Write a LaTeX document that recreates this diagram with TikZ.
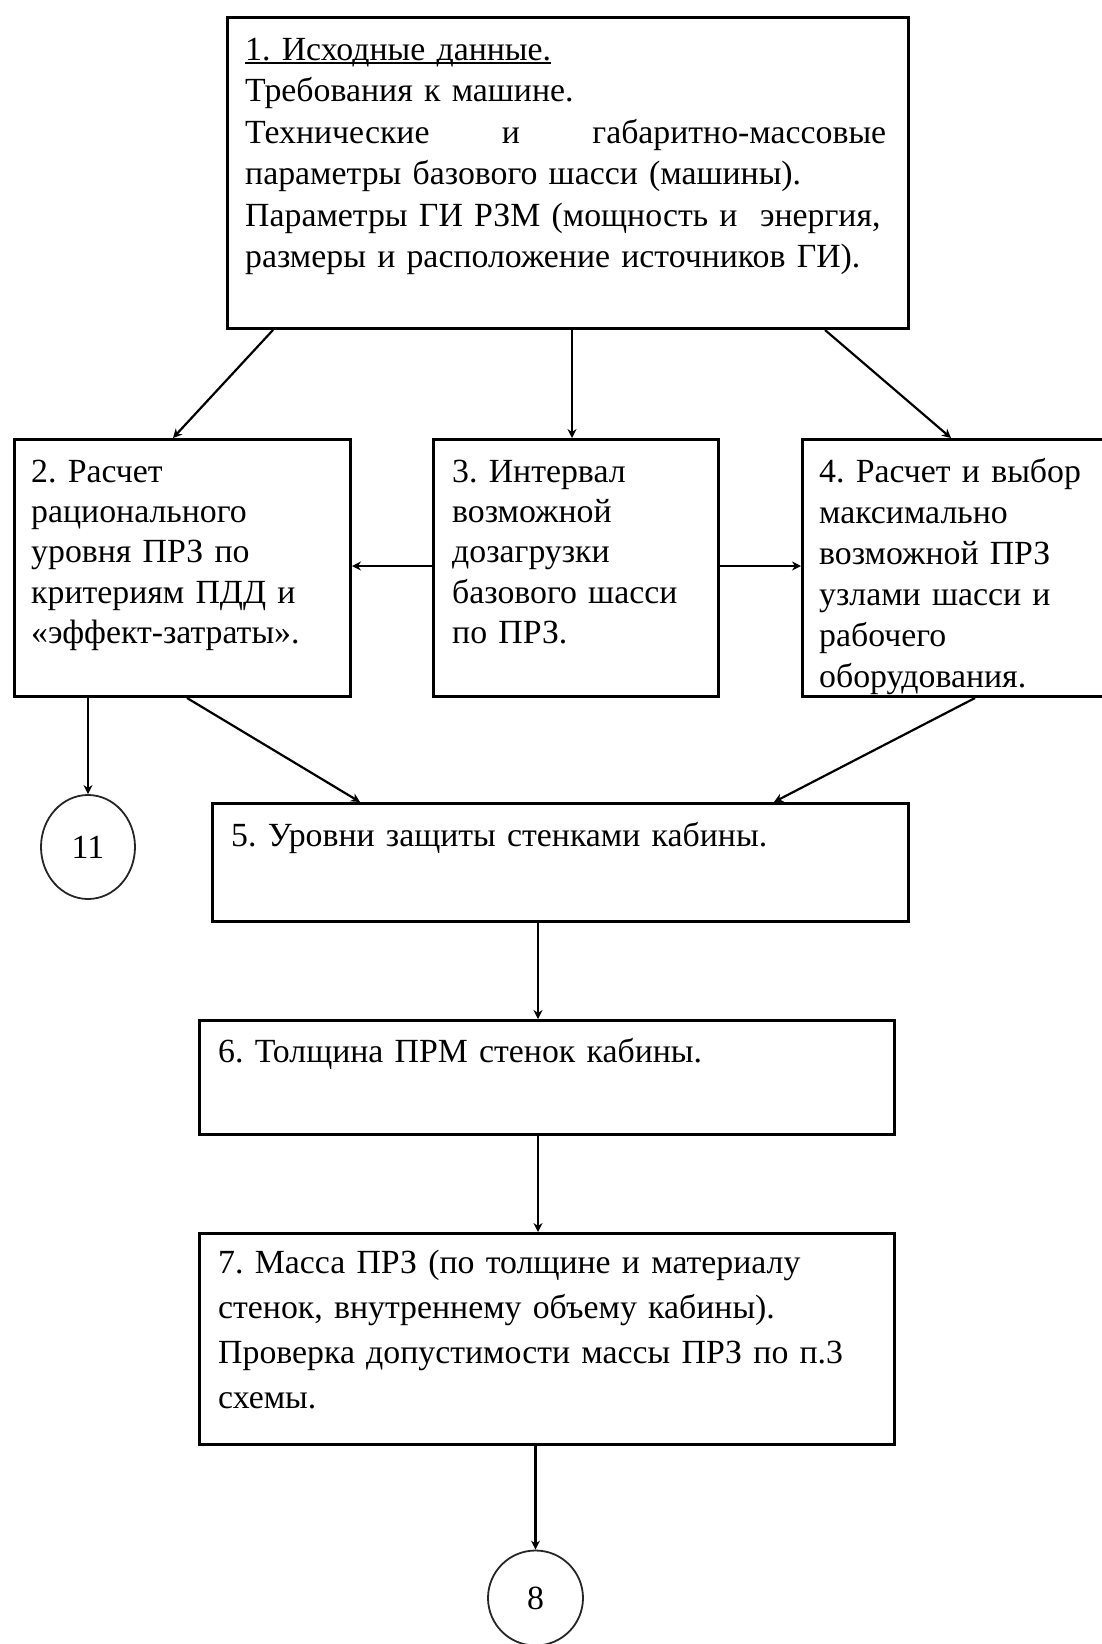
\documentclass[tikz,border=0pt]{standalone}
\usepackage{fontspec}
\setmainfont{Liberation Serif}
\usetikzlibrary{arrows.meta,calc,shapes.geometric}

% underline drawn close to the baseline
\newlength\ulwd
\newcommand\lowul[1]{\settowidth\ulwd{#1}\rlap{\rule[-4pt]{\ulwd}{2pt}}#1}

\begin{document}
\frenchspacing
\begin{tikzpicture}[x=1pt,y=-1pt,
  stage/.style={draw, line width=3pt, inner sep=0pt, anchor=north west},
  label/.style={anchor=north west, inner sep=0pt, align=left, text width=#1},
  label/.default=300pt,
  sz/.style={font=\fontsize{33.8}{#1}\selectfont},
  refmark/.style={draw=black!85, line width=1.8pt, inner sep=0pt, font=\fontsize{33.8}{40}\selectfont},
  arr/.style={-{Stealth[length=9pt,width=9pt]}, line width=2.8pt},
  slant/.style={arr, line width=2.2pt}]

\useasboundingbox (0,0) rectangle (1102,1644);

% frames of the stages
\node[stage, minimum width=681pt, minimum height=311pt] (b1) at (226,16) {};
\node[stage, minimum width=336pt, minimum height=257pt] (b2) at (13,438) {};
\node[stage, minimum width=285pt, minimum height=257pt] (b3) at (432,438) {};
\node[stage, minimum width=305pt, minimum height=257pt] (b4) at (801,438) {};
\node[stage, minimum width=696pt, minimum height=118pt] (b5) at (211,802) {};
\node[stage, minimum width=695pt, minimum height=114pt] (b6) at (198,1019) {};
\node[stage, minimum width=695pt, minimum height=211pt] (b7) at (198,1232) {};

% off-page references
\node[refmark, ellipse, minimum width=94pt, minimum height=104pt] (c11) at (88,847) {11};
\node[refmark, circle, minimum size=95pt] (c8) at (535.5,1598) {8};

% texts of the stages
\node[label=660pt, sz=41.4] (t1) at (245,31.3) {\strut\lowul{1. Исходные данные.}\\
Требования к машине.\\
\makebox[641pt][s]{Технические\hfill и\hfill габаритно-массовые}\\
параметры базового шасси (машины).\\
Параметры ГИ РЗМ (мощность и\ \ энергия,\\
размеры и расположение источников ГИ).};

\node[label, sz=40.4] (t2) at (31,453.7) {\strut 2. Расчет\\
рационального\\
уровня ПРЗ по\\
критериям ПДД и\\
«эффект-затраты».};

\node[label, sz=40.4] (t3) at (452,453.7) {\strut 3. Интервал\\
возможной\\
дозагрузки\\
базового шасси\\
по ПРЗ.};

\begin{scope}
\clip (b4.north west) rectangle (b4.south east);
\node[label, sz=41] (t4) at (819,453.3) {\strut 4. Расчет и выбор\\
максимально\\
возможной ПРЗ\\
узлами шасси и\\
рабочего\\
оборудования.};
\end{scope}

\node[label=660pt, sz=41] (t5) at (231,817.3) {\strut 5. Уровни защиты стенками кабины.};
\node[label=660pt, sz=41] (t6) at (218,1033.3) {\strut 6. Толщина ПРМ стенок кабины.};
\node[label=660pt, sz=45] (t7) at (218,1241.5) {\strut 7. Масса ПРЗ (по толщине и материалу\\
стенок, внутреннему объему кабины).\\
Проверка допустимости массы ПРЗ по п.3\\
схемы.};

% connectors
\draw[slant] ($(b1.south west)+(47,0)$) -- ($(b2.north west)+(160,0)$);
\draw[arr] ($(b1.south west)+(346,0)$) coordinate (p13) -- (p13 |- b3.north);
\draw[slant] ($(b1.south west)+(599,0)$) -- ($(b4.north west)+(150,0)$);
\draw[arr] ($(b3.north west)+(0,128)$) coordinate (p32) -- (p32 -| b2.east);
\draw[arr] ($(b3.north east)+(0,128)$) coordinate (p34) -- (p34 -| b4.west);
\draw[arr] (b2.south -| c11.north) -- (c11.north);
\draw[slant] ($(b2.south west)+(174,0)$) -- ($(b5.north west)+(149,0)$);
\draw[slant] ($(b4.south west)+(174,0)$) -- ($(b5.north west)+(563,0)$);
\draw[arr] ($(b5.south west)+(327,0)$) coordinate (p56) -- (p56 |- b6.north);
\draw[arr] ($(b6.south west)+(340,0)$) coordinate (p67) -- (p67 |- b7.north);
\draw[arr] (b7.south -| c8.north) -- (c8.north);
\end{tikzpicture}
\end{document}
